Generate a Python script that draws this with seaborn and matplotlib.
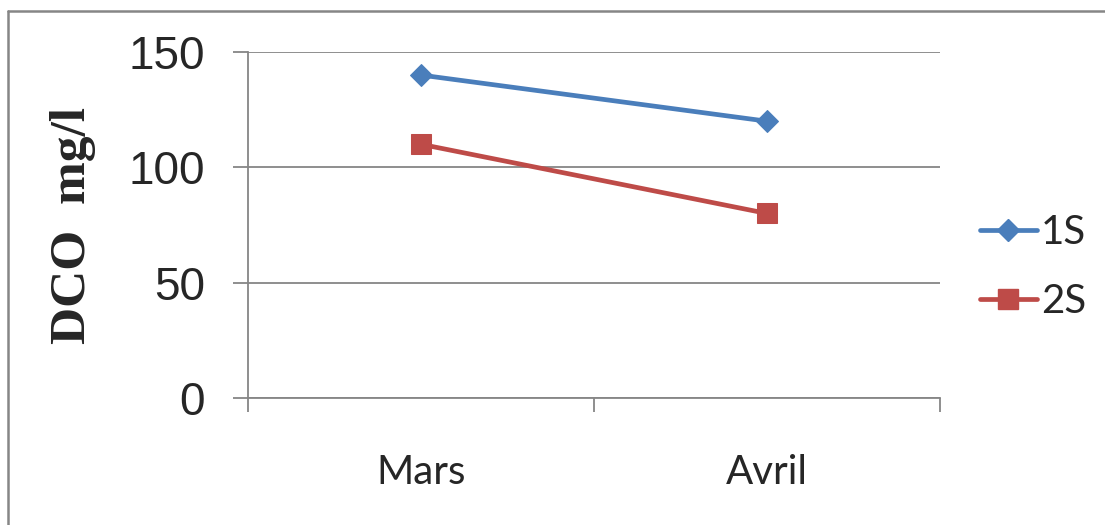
import matplotlib
matplotlib.use("Agg")
import matplotlib.pyplot as plt
from matplotlib.lines import Line2D
import seaborn as sns
import pandas as pd

months = ["Mars", "Avril"]
series_1s = [140, 120]
series_2s = [110, 80]
series_names = ["1S", "2S"]
y_ticks = [0, 50, 100, 150]

df = pd.DataFrame({
    "mois": months * 2,
    "DCO": series_1s + series_2s,
    "serie": [series_names[0]] * 2 + [series_names[1]] * 2,
})

sns.set_theme(style="white")
plt.rcParams["font.family"] = ["Liberation Sans", "DejaVu Sans"]

W, H = 1105, 525
fig = plt.figure(figsize=(W / 100, H / 100), dpi=100)
ax = fig.add_axes([248 / W, 1 - 398 / H, (940 - 248) / W, (398 - 52) / H])

colors = {"1S": "#4A7EBB", "2S": "#BE4B48"}
markers = {"1S": "D", "2S": "s"}
sizes = {"1S": 11.5, "2S": 14}
lw = 3.4

for name in series_names:
    sub = df[df["serie"] == name]
    sns.lineplot(data=sub, x="mois", y="DCO", ax=ax, color=colors[name],
                 linewidth=lw, marker=markers[name], markersize=sizes[name],
                 markeredgecolor=colors[name], legend=False, sort=False)

grid_c = "#868686"
ax.set_xlim(-0.5, 1.5)
ax.set_ylim(0, 150)
ax.set_yticks(y_ticks)
ax.set_yticklabels([str(v) for v in y_ticks], fontsize=33)
ax.yaxis.grid(True, color=grid_c, linewidth=1.3)
ax.xaxis.grid(False)
ax.set_axisbelow(True)

for s in ["top", "right"]:
    ax.spines[s].set_visible(False)
for s in ["left", "bottom"]:
    ax.spines[s].set_color(grid_c)
    ax.spines[s].set_linewidth(1.3)

ax.tick_params(axis="y", which="major", direction="out", length=11,
               width=1.3, color=grid_c, pad=20, left=True)
ax.set_xticks([0, 1])
ax.set_xticklabels(months, fontsize=29, family=["Lato", "DejaVu Sans"])
ax.set_xticks([-0.5, 0.5, 1.5], minor=True)
ax.tick_params(axis="x", which="major", length=0, pad=40)
ax.tick_params(axis="x", which="minor", direction="out", length=10,
               width=1.3, color=grid_c, bottom=True)

ax.set_xlabel("")
ax.set_ylabel("DCO  mg/l", fontsize=37, fontweight="bold",
              family=["Liberation Serif", "DejaVu Serif"], labelpad=23)

handles = [Line2D([], [], color=colors[n], linewidth=lw, marker=markers[n],
                  markersize=sizes[n], markeredgecolor=colors[n])
           for n in series_names]
fig.legend(handles, series_names, loc="center left",
           bbox_to_anchor=(944 / W, 1 - 267 / H), frameon=False,
           prop={"family": ["Lato", "DejaVu Sans"], "size": 29},
           handlelength=1.4, handletextpad=0.1, labelspacing=0.8)

# outer chart frame
fig.add_artist(Line2D([8 / W, 8 / W], [0, 1 - 11 / H], transform=fig.transFigure,
                      color=grid_c, linewidth=1.8))
fig.add_artist(Line2D([8 / W, 1], [1 - 11 / H, 1 - 11 / H], transform=fig.transFigure,
                      color=grid_c, linewidth=1.8))

fig.savefig("out.png", dpi=100)
